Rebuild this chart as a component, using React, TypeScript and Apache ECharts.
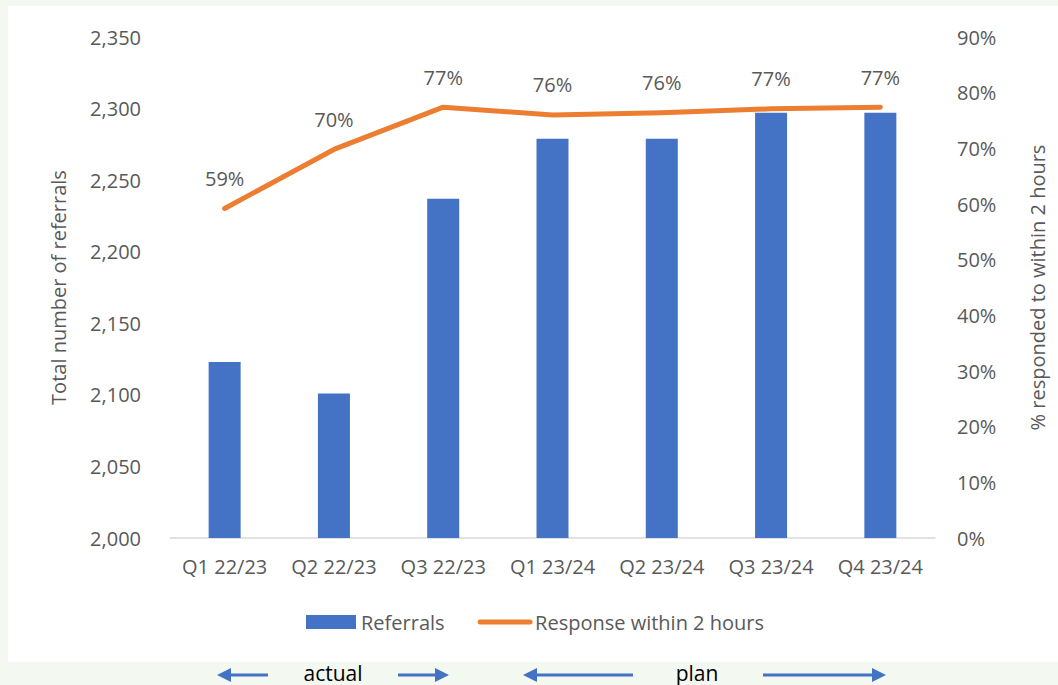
import React, { useEffect, useRef } from "react";
import * as echarts from "echarts";

const categories = ["Q1 22/23", "Q2 22/23", "Q3 22/23", "Q1 23/24", "Q2 23/24", "Q3 23/24", "Q4 23/24"];
const referrals = [2123, 2101, 2237, 2279, 2279, 2297, 2297];
const responsePct = [59.2, 69.8, 77.4, 76.0, 76.4, 77.1, 77.4];
const leftTicks = { min: 2000, max: 2350, step: 50 };
const rightTicks = { min: 0, max: 90, step: 10 };

const FONT = "'Open Sans', 'Noto Sans', sans-serif";
const GREY = "#595959";

export default function App() {
  const ref = useRef<HTMLDivElement>(null);
  useEffect(() => {
    if (!ref.current) return;
    const chart = echarts.init(ref.current, undefined, { renderer: "svg" });
    const arrowY = 675;
    const arrow = (x1: number, x2: number, dir: number) => {
      const tip = dir < 0 ? x1 : x2;
      const base = dir < 0 ? x1 + 14 : x2 - 14;
      return [
        {
          type: "line",
          shape: { x1: dir < 0 ? base : x1, y1: arrowY, x2: dir < 0 ? x2 : base, y2: arrowY },
          style: { stroke: "#4472c4", lineWidth: 3 },
        },
        {
          type: "polygon",
          shape: { points: [[tip, arrowY], [base, arrowY - 7], [base, arrowY + 7]] },
          style: { fill: "#4472c4" },
        },
      ];
    };
    chart.setOption({
      animation: false,
      textStyle: { fontFamily: FONT },
      grid: { left: 170, right: 123, top: 37, bottom: 147, containLabel: false },
      legend: {
        left: 306,
        top: 612,
        padding: 0,
        itemWidth: 50,
        itemHeight: 14,
        itemGap: 33,
        textStyle: { fontSize: 20, color: GREY, fontFamily: FONT },
        data: [
          { name: "Referrals", icon: "rect" },
          {
            name: "Response within 2 hours",
            itemStyle: { color: "rgba(0,0,0,0)", borderWidth: 0 },
            lineStyle: { width: 5, cap: "round", color: "#ed7d31" },
          },
        ],
      },
      xAxis: {
        type: "category",
        data: categories,
        axisTick: { show: false },
        axisLine: { lineStyle: { color: "#d9d9d9", width: 1.5 } },
        axisLabel: { fontSize: 20, color: GREY, margin: 18, fontFamily: FONT, interval: 0 },
      },
      yAxis: [
        {
          type: "value",
          min: leftTicks.min,
          max: leftTicks.max,
          interval: leftTicks.step,
          name: "Total number of referrals",
          nameLocation: "middle",
          nameRotate: 90,
          nameGap: 102,
          nameTextStyle: { fontSize: 20, color: GREY, fontFamily: FONT },
          splitLine: { show: false },
          axisLine: { show: false },
          axisTick: { show: false },
          axisLabel: {
            fontSize: 20,
            color: GREY,
            margin: 29,
            fontFamily: FONT,
            formatter: (v: number) => v.toLocaleString("en-US"),
          },
        },
        {
          type: "value",
          min: rightTicks.min,
          max: rightTicks.max,
          interval: rightTicks.step,
          position: "right",
          name: "% responded to within 2 hours",
          nameLocation: "middle",
          nameRotate: 90,
          nameGap: 92,
          nameTextStyle: { fontSize: 20, color: GREY, fontFamily: FONT },
          splitLine: { show: false },
          axisLine: { show: false },
          axisTick: { show: false },
          axisLabel: {
            fontSize: 20,
            color: GREY,
            margin: 22,
            fontFamily: FONT,
            formatter: (v: number) => `${v}%`,
          },
        },
      ],
      series: [
        {
          name: "Referrals",
          type: "bar",
          data: referrals,
          barWidth: 32,
          itemStyle: { color: "#4472c4" },
        },
        {
          name: "Response within 2 hours",
          type: "line",
          yAxisIndex: 1,
          data: responsePct,
          symbol: "circle",
          symbolSize: 0.1,
          showSymbol: true,
          lineStyle: { color: "#ed7d31", width: 5, cap: "round", join: "round" },
          itemStyle: { color: "#ed7d31" },
          label: {
            show: true,
            position: "top",
            distance: 20,
            fontSize: 20,
            color: GREY,
            fontFamily: FONT,
            formatter: (p: any) => `${Math.round(p.value)}%`,
          },
          z: 3,
        },
      ],
      graphic: [
        ...arrow(217, 268, -1),
        ...arrow(398, 449, 1),
        ...arrow(523, 633, -1),
        ...arrow(763, 886, 1),
        {
          type: "text",
          x: 333,
          y: 683,
          style: { text: "actual", fontSize: 21, fill: "#000", align: "center", verticalAlign: "bottom", fontFamily: FONT },
        },
        {
          type: "text",
          x: 697,
          y: 683,
          style: { text: "plan", fontSize: 21, fill: "#000", align: "center", verticalAlign: "bottom", fontFamily: FONT },
        },
      ],
    });
    return () => chart.dispose();
  }, []);
  return (
    <div style={{ position: "fixed", left: 0, top: 0, width: 1058, height: 685, background: "#f3f8f1" }}>
      <div style={{ position: "absolute", left: 8, top: 6, width: 1050, height: 656, background: "#ffffff" }} />
      <div ref={ref} style={{ position: "absolute", left: 0, top: 0, width: 1058, height: 685 }} />
    </div>
  );
}
